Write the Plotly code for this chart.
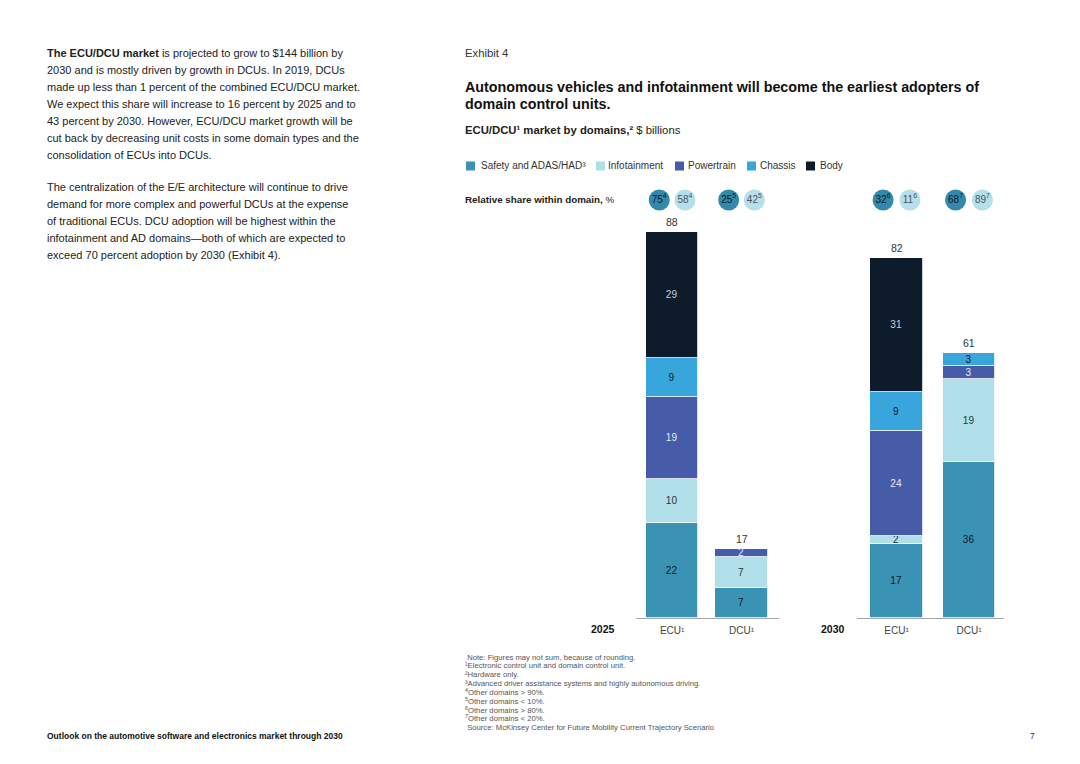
import plotly.graph_objects as go

# page offset (browser body margin) compensation
OFF = 8
W, H = 1080 - OFF, 764 - OFF
FONT = "Liberation Sans, Arial, sans-serif"


def px(x):
    return (x - OFF) / W


def py(y):
    return 1 - (y - OFF) / H


# ---------------- data ----------------
categories = ["ECU¹", "DCU¹"]
years = ["2025", "2030"]
domains = ["Safety and ADAS/HAD³", "Infotainment", "Powertrain", "Chassis", "Body"]

safety_2025 = [22, 7]
infotainment_2025 = [10, 7]
powertrain_2025 = [19, 2]
chassis_2025 = [9, None]
body_2025 = [29, None]

safety_2030 = [17, 36]
infotainment_2030 = [2, 19]
powertrain_2030 = [24, 3]
chassis_2030 = [9, 3]
body_2030 = [31, None]

totals_2025 = [88, 17]
totals_2030 = [82, 61]

share_safety_2025 = [75, 25]
share_infotainment_2025 = [58, 42]
share_safety_2030 = [32, 68]
share_infotainment_2030 = [11, 89]
share_note_2025 = ["4", "5"]
share_note_2030 = ["6", "7"]

# ---------------- styles ----------------
colors = ["#3a93b5", "#b0dfe9", "#465ca9", "#38a6dc", "#0d1b2a"]
text_colors = ["#0d1b2a", "#2a3440", "#e6eaf4", "#0d1b2a", "#c9d1da"]
bubble_colors = ["#3389ab", "#b3e0ea"]
bubble_text_colors = ["#0d1b2a", "#4a5560"]

series_by_year = {
    "2025": [safety_2025, infotainment_2025, powertrain_2025, chassis_2025, body_2025],
    "2030": [safety_2030, infotainment_2030, powertrain_2030, chassis_2030, body_2030],
}
totals_by_year = {"2025": totals_2025, "2030": totals_2030}
shares_by_year = {
    "2025": (share_safety_2025, share_infotainment_2025, share_note_2025),
    "2030": (share_safety_2030, share_infotainment_2030, share_note_2030),
}
axis_cfg = {
    "2025": dict(xref="x", yref="y", dom=(636, 779), rng=[-0.52, 1.54], bw=0.75, lab_x=603),
    "2030": dict(xref="x2", yref="y2", dom=(857, 1004), rng=[-0.545, 1.483], bw=0.725, lab_x=833),
}
BASE_Y = 618
PX_PER_UNIT = 4.34
Y_MAX = 100
BUBBLE_Y = (BASE_Y - 200) / PX_PER_UNIT

fig = go.Figure()
annotations = []
shapes = []

idx = list(range(len(categories)))

for yr in years:
    cfg = axis_cfg[yr]
    for d, vals in enumerate(series_by_year[yr]):
        fig.add_trace(go.Bar(
            x=idx, y=vals, width=cfg["bw"],
            marker=dict(color=colors[d], line=dict(color="white", width=0.8)),
            text=[("" if v is None else str(v)) for v in vals],
            textposition="inside", insidetextanchor="middle", textangle=0,
            textfont=dict(family=FONT, size=10, color=text_colors[d]),
            xaxis=cfg["xref"], yaxis=cfg["yref"], showlegend=False,
            hoverinfo="skip", name=domains[d],
        ))
    # totals
    for i in idx:
        stack = sum(v[i] for v in series_by_year[yr] if v[i] is not None)
        annotations.append(dict(
            x=i, y=stack, xref=cfg["xref"], yref=cfg["yref"], text=str(totals_by_year[yr][i]),
            showarrow=False, yanchor="bottom", yshift=2,
            font=dict(family=FONT, size=10.5, color="#333333"),
        ))
    # share bubbles
    s_safe, s_info, notes = shares_by_year[yr]
    for k, (svals, off) in enumerate([(s_safe, -0.185), (s_info, 0.185)]):
        fig.add_trace(go.Scatter(
            x=[i + off for i in idx], y=[BUBBLE_Y] * len(idx),
            mode="markers+text",
            marker=dict(size=21, color=bubble_colors[k], line=dict(width=0)),
            text=[f"{v}<sup>{n}</sup>" for v, n in zip(svals, notes)],
            textposition="middle center",
            textfont=dict(family=FONT, size=10, color=bubble_text_colors[k]),
            cliponaxis=False, xaxis=cfg["xref"], yaxis=cfg["yref"],
            showlegend=False, hoverinfo="skip",
        ))
    # year label
    annotations.append(dict(
        x=px(cfg["lab_x"]), y=py(629), xref="paper", yref="paper", text=f"<b>{yr}</b>",
        showarrow=False, xanchor="center", yanchor="middle",
        font=dict(family=FONT, size=10.5, color="#111111"),
    ))


def ax_x(cfg):
    return dict(
        domain=[px(cfg["dom"][0]), px(cfg["dom"][1])], range=cfg["rng"],
        tickvals=idx, ticktext=categories, showline=True, linecolor="#a6a6a6", linewidth=1,
        showgrid=False, zeroline=False, ticks="", fixedrange=True, ticklabelstandoff=3,
        tickfont=dict(family=FONT, size=10, color="#444444"),
    )


def ax_y(anchor):
    return dict(
        domain=[py(BASE_Y), py(BASE_Y - Y_MAX * PX_PER_UNIT)], range=[0, Y_MAX],
        visible=False, fixedrange=True, anchor=anchor,
    )


# ---------------- text ----------------
def txt(x, y, s, size, color="#222222", anchor="left"):
    annotations.append(dict(
        x=px(x - 2), y=py(y), xref="paper", yref="paper", text=s, showarrow=False,
        xanchor=anchor, yanchor="middle", align="left",
        font=dict(family=FONT, size=size, color=color),
    ))


para1 = [
    "<b>The ECU/DCU market</b> is projected to grow to $144 billion by",
    "2030 and is mostly driven by growth in DCUs. In 2019, DCUs",
    "made up less than 1 percent of the combined ECU/DCU market.",
    "We expect this share will increase to 16 percent by 2025 and to",
    "43 percent by 2030. However, ECU/DCU market growth will be",
    "cut back by decreasing unit costs in some domain types and the",
    "consolidation of ECUs into DCUs.",
]
para2 = [
    "The centralization of the E/E architecture will continue to drive",
    "demand for more complex and powerful DCUs at the expense",
    "of traditional ECUs. DCU adoption will be highest within the",
    "infotainment and AD domains—both of which are expected to",
    "exceed 70 percent adoption by 2030 (Exhibit 4).",
]
for j, line in enumerate(para1):
    txt(47, 53 + 17 * j, line, 11.0)
for j, line in enumerate(para2):
    txt(47, 187 + 17 * j, line, 11.0)

txt(465, 53, "Exhibit 4", 11.3, "#333333")
txt(465, 87, "<b>Autonomous vehicles and infotainment will become the earliest adopters of</b>", 14.3, "#111111")
txt(465, 104, "<b>domain control units.</b>", 14.3, "#111111")
txt(465, 130, "<b>ECU/DCU¹ market by domains,²</b> $ billions", 11.3, "#222222")
txt(465, 199, "<b>Relative share within domain,</b> %", 9.8, "#222222")

# legend
legend_pos = [(466, 481), (596, 608), (675, 688), (747, 760), (806, 820)]
for d, (sx, tx) in enumerate(legend_pos):
    shapes.append(dict(type="rect", xref="paper", yref="paper",
                       x0=px(sx), x1=px(sx + 9), y0=py(170.5), y1=py(161.5),
                       fillcolor=colors[d], line=dict(width=0)))
    txt(tx, 166, domains[d], 10, "#333333")

footnotes = [
    " Note: Figures may not sum, because of rounding.",
    "¹Electronic control unit and domain control unit.",
    "²Hardware only.",
    "³Advanced driver assistance systems and highly autonomous driving.",
    "<sup>4</sup>Other domains > 90%.",
    "<sup>5</sup>Other domains < 10%.",
    "<sup>6</sup>Other domains > 80%.",
    "<sup>7</sup>Other domains < 20%.",
    " Source: McKinsey Center for Future Mobility Current Trajectory Scenario",
]
for j, line in enumerate(footnotes):
    txt(465, 657 + 8.75 * j, line, 7.7, "#555555")

txt(47, 736, "<b>Outlook on the automotive software and electronics market through 2030</b>", 8.5, "#111111")
txt(1030, 736, "7", 8.5, "#333333")

fig.update_layout(
    width=W, height=H, margin=dict(l=0, r=0, t=0, b=0),
    paper_bgcolor="white", plot_bgcolor="white",
    barmode="stack", bargap=0, showlegend=False,
    uniformtext=dict(minsize=10, mode="show"),
    xaxis=dict(**ax_x(axis_cfg["2025"]), anchor="y"),
    yaxis=ax_y("x"),
    xaxis2=dict(**ax_x(axis_cfg["2030"]), anchor="y2"),
    yaxis2=ax_y("x2"),
    annotations=annotations, shapes=shapes,
    font=dict(family=FONT),
)

fig.write_html("out.html")
